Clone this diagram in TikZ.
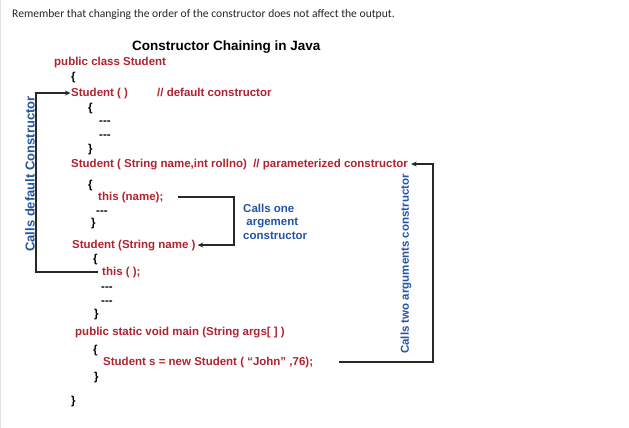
\documentclass[tikz,border=0pt]{standalone}
\usepackage{fontspec}
\setmainfont{Liberation Sans}
\newfontfamily\uifont{Carlito}
\usetikzlibrary{arrows.meta}
\definecolor{codered}{RGB}{178,34,48}
\definecolor{callblue}{RGB}{35,85,165}
\definecolor{linegray}{RGB}{40,40,40}
\newcommand{\tripledash}{-{}-{}-}
\tikzset{
  code/.style={anchor=base west, inner sep=0pt, text=codered, font=\fontsize{11.5}{13}\selectfont\bfseries},
  brace/.style={anchor=base west, inner sep=0pt, text=black, font=\fontsize{11.5}{13}\selectfont\bfseries},
  callnote/.style={inner sep=0pt, text=callblue, font=\fontsize{11.5}{13}\selectfont\bfseries},
  link/.style={draw=linegray, line width=1.4pt},
  tip/.style={-{Stealth[length=5.5pt,width=5pt]}}
}
\begin{document}
\begin{tikzpicture}[x=1pt,y=-1pt]
\useasboundingbox (0,0) rectangle (629,428);
\fill[white] (0,0) rectangle (629,428);
\draw[black!10, line width=1pt] (0.5,0) -- (0.5,428);
% header sentence
\node[anchor=base west, inner sep=0pt, text=black!85, font=\uifont\fontsize{11.6}{14}\selectfont] (remark) at (12,18) {Remember that changing the order of the constructor does not affect the output.};
% title
\node[anchor=base west, inner sep=0pt, font=\fontsize{13.5}{16}\selectfont\bfseries] (title) at (132,51) {Constructor Chaining in Java};
% code lines
\node[code] (cls) at (54,66) {public class Student};
\node[brace] (b1) at (71,81) {\{};
\node[code] (sdef) at (71,96) {Student ( )};
\node[code] (cdef) at (157,96) {// default constructor};
\node[brace] (b2) at (88,111) {\{};
\node[brace] (d1) at (99,124) {\tripledash};
\node[brace] (d2) at (99,138) {\tripledash};
\node[brace] (b3) at (88,152) {\}};
\node[code] (spar) at (71,167) {Student ( String name,int rollno)\ \ // parameterized constructor};
\node[brace] (b4) at (88,188) {\{};
\node[code] (thisname) at (98,200) {this (name);};
\node[brace] (d3) at (96,214) {\tripledash};
\node[brace] (b5) at (91,226) {\}};
\node[code] (sone) at (72,248) {Student (String name )};
\node[brace] (b6) at (93,262) {\{};
\node[code] (thisempty) at (102,275) {this ( );};
\node[brace] (d4) at (101,290) {\tripledash};
\node[brace] (d5) at (101,304) {\tripledash};
\node[brace] (b7) at (94,317) {\}};
\node[code] (mainline) at (75,335) {public static void main (String args[ ] )};
\node[brace] (b8) at (93,353) {\{};
\node[code] (newline) at (103,365) {Student s = new Student ( “John” ,76);};
\node[brace] (b9) at (94,380) {\}};
\node[brace] (b10) at (71,404) {\}};
% notes
\node[callnote, rotate=90, font=\fontsize{13}{15}\selectfont\bfseries] (leftnote) at (30,174) {Calls default Constructor};
\node[callnote, rotate=90] (rightnote) at (406,264) {Calls two arguments constructor};
\node[callnote, anchor=base west, align=left] (midnote) at (243,239) {Calls one\\[0.4pt]\ argement\\[0.4pt]constructor};
% rails
\coordinate (lrail) at (40,0);
\coordinate (mrail) at (234,0);
\coordinate (rrail) at (433,0);
% connectors
\draw[link,tip] ([xshift=-4pt]thisempty.west) -- ([xshift=-4pt]thisempty.west -| lrail) |- ([xshift=-0.5pt]sdef.west);
\draw[link,tip] ([xshift=14pt]thisname.east) -| (mrail |- sone.east) -- ([xshift=2pt]sone.east);
\draw[link,tip] ([xshift=26pt]newline.east) -| (rrail |- spar.east) -- ([xshift=3pt]spar.east);
\end{tikzpicture}
\end{document}
